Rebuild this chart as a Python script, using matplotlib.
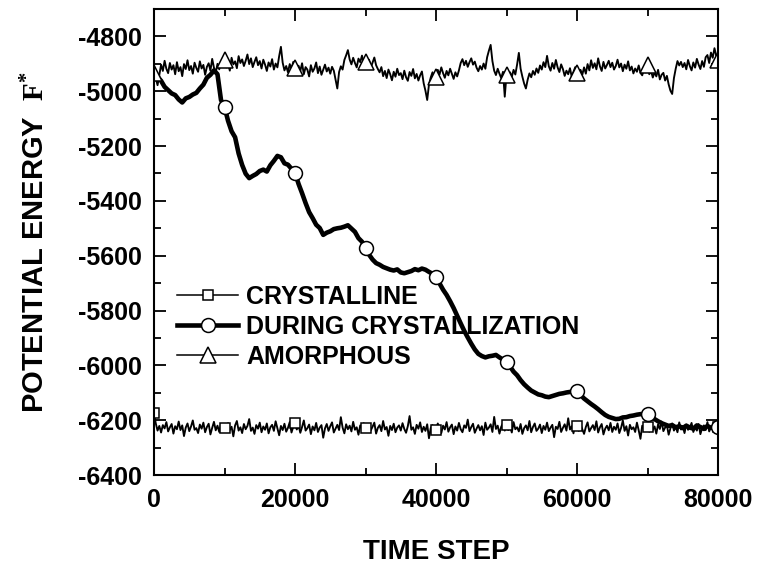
import numpy as np
import matplotlib
matplotlib.use('Agg')
import matplotlib.pyplot as plt
from matplotlib.ticker import MultipleLocator

plt.rcParams['font.family'] = ['Liberation Sans', 'DejaVu Sans']
plt.rcParams['font.weight'] = 'bold'
plt.rcParams['axes.unicode_minus'] = False
plt.rcParams['mathtext.fontset'] = 'custom'
plt.rcParams['mathtext.rm'] = 'Liberation Serif'
plt.rcParams['mathtext.it'] = 'Liberation Serif'

# potential energy, sampled every 250 steps (thin lines) and 500 steps (thick line)
cristalino = [
    -6175, -6212, -6238, -6221, -6245, -6218, -6230, -6207, -6241, -6226, -6214, -6249, -6222, -6233, -6205, -6236, -6219, -6258, -6227, -6212,
    -6240, -6223, -6201, -6235, -6229, -6247, -6216, -6231, -6209, -6244, -6225, -6213, -6252, -6228, -6206, -6237, -6220, -6243, -6215, -6232,
    -6228, -6242, -6211, -6236, -6224, -6259, -6219, -6203, -6238, -6226, -6247, -6214, -6233, -6221, -6196, -6239, -6227, -6250, -6218, -6231,
    -6209, -6244, -6223, -6235, -6212, -6248, -6226, -6217, -6239, -6204, -6230, -6255, -6221, -6236, -6213, -6242, -6228, -6207, -6245, -6224,
    -6212, -6234, -6219, -6246, -6225, -6201, -6238, -6229, -6216, -6251, -6223, -6237, -6210, -6243, -6227, -6218, -6264, -6230, -6214, -6239,
    -6222, -6208, -6245, -6231, -6217, -6236, -6189, -6227, -6248, -6215, -6233, -6220, -6241, -6206, -6235, -6226, -6253, -6219, -6230, -6211,
    -6230, -6243, -6216, -6237, -6224, -6209, -6249, -6228, -6218, -6240, -6203, -6234, -6225, -6257, -6221, -6236, -6213, -6244, -6227, -6219,
    -6238, -6211, -6232, -6246, -6222, -6185, -6235, -6226, -6250, -6217, -6231, -6208, -6243, -6224, -6239, -6215, -6266, -6229, -6218, -6241,
    -6236, -6212, -6229, -6247, -6220, -6234, -6207, -6242, -6226, -6216, -6251, -6223, -6238, -6210, -6233, -6244, -6219, -6228, -6198, -6240,
    -6225, -6213, -6246, -6231, -6218, -6237, -6222, -6254, -6209, -6235, -6227, -6215, -6243, -6188, -6232, -6220, -6249, -6224, -6211, -6238,
    -6218, -6236, -6223, -6245, -6207, -6233, -6226, -6241, -6214, -6250, -6229, -6219, -6237, -6203, -6244, -6225, -6212, -6239, -6231, -6216,
    -6247, -6221, -6235, -6209, -6240, -6227, -6217, -6262, -6224, -6232, -6206, -6243, -6228, -6215, -6238, -6193, -6234, -6222, -6248, -6213,
    -6222, -6239, -6216, -6233, -6250, -6225, -6208, -6241, -6229, -6218, -6236, -6204, -6245, -6226, -6214, -6252, -6231, -6220, -6237, -6210,
    -6243, -6224, -6235, -6212, -6247, -6228, -6201, -6239, -6222, -6256, -6217, -6233, -6226, -6243, -6209, -6237, -6268, -6220, -6231, -6214,
    -6226, -6242, -6211, -6236, -6223, -6249, -6215, -6232, -6205, -6240, -6227, -6219, -6253, -6230, -6212, -6238, -6224, -6244, -6208, -6234,
    -6221, -6247, -6216, -6235, -6228, -6210, -6243, -6225, -6238, -6214, -6251, -6229, -6219, -6236, -6207, -6241, -6226, -6232, -6215, -6239,
    -6224,
]

amorfo = [
    -4935, -4952, -4978, -4941, -4903, -4926, -4889, -4918, -4934, -4897, -4921, -4905, -4938, -4894, -4927, -4912, -4945, -4901, -4919, -4887,
    -4923, -4908, -4936, -4896, -4915, -4929, -4891, -4917, -4904, -4940, -4911, -4898, -4925, -4882, -4914, -4933, -4900, -4920, -4893, -4912,
    -4886, -4913, -4899, -4925, -4878, -4902, -4891, -4916, -4872, -4897, -4884, -4908, -4889, -4866, -4901, -4880, -4912, -4893, -4876, -4905,
    -4890, -4917, -4885, -4903, -4926, -4895, -4910, -4883, -4921, -4899, -4913, -4872, -4838, -4896, -4924, -4908, -4931, -4901, -4919, -4893,
    -4915, -4932, -4907, -4926, -4898, -4938, -4912, -4921, -4946, -4905, -4929, -4917, -4895, -4934, -4910, -4940, -4922, -4903, -4928, -4914,
    -4936, -4911, -4925, -4957, -4990, -4930, -4909, -4921, -4886, -4869, -4850, -4884, -4902, -4878, -4897, -4913, -4881, -4894, -4870, -4899,
    -4893, -4908, -4885, -4914, -4896, -4877, -4905, -4919, -4931, -4912, -4945, -4926, -4952, -4921, -4938, -4960, -4929, -4947, -4918, -4941,
    -4934, -4956, -4925, -4949, -4962, -4930, -4944, -4919, -4953, -4937, -4961, -4942, -4928, -4971, -4998, -5032, -4976, -4950, -4931, -4945,
    -4948, -4922, -4939, -4913, -4934, -4951, -4926, -4942, -4918, -4937, -4955, -4931, -4946, -4924, -4897, -4883, -4905, -4889, -4911, -4894,
    -4880, -4903, -4892, -4914, -4927, -4908, -4921, -4899, -4918, -4876, -4852, -4831, -4890, -4925, -4941, -4918, -4936, -4952, -4929, -5020,
    -4940, -4965, -4931, -4948, -4922, -4939, -4903, -4860, -4918, -4947, -4972, -4990, -4958, -4935, -4949, -4926, -4940, -4917, -4933, -4906,
    -4921, -4894, -4912, -4871, -4909, -4925, -4897, -4918, -4886, -4913, -4930, -4902, -4919, -4944, -4925, -4938, -4916, -4947, -4929, -4912,
    -4934, -4951, -4922, -4940, -4913, -4936, -4901, -4924, -4887, -4915, -4898, -4920, -4880, -4909, -4926, -4893, -4917, -4904, -4889, -4912,
    -4896, -4921, -4908, -4885, -4913, -4899, -4927, -4903, -4918, -4891, -4924, -4910, -4935, -4917, -4929, -4906, -4933, -4942, -4919, -4931,
    -4905, -4938, -4926, -4950, -4931, -4946, -4922, -4957, -4940, -4933, -4961, -4944, -4975, -4998, -5010, -4952, -4918, -4890, -4906, -4893,
    -4912, -4897, -4920, -4886, -4908, -4924, -4895, -4914, -4882, -4903, -4919, -4890, -4911, -4876, -4868, -4897, -4859, -4878, -4843, -4871,
    -4886,
]

cristalizando = [
    -4930, -4948, -4962, -4984, -4996, -5008, -5014, -5030, -5041, -5026,
    -5021, -5012, -5006, -4990, -4976, -4951, -4940, -4924, -4938, -5032,
    -5057, -5108, -5146, -5168, -5227, -5269, -5301, -5317, -5309, -5302,
    -5291, -5286, -5293, -5270, -5254, -5236, -5241, -5263, -5268, -5283,
    -5297, -5338, -5372, -5408, -5441, -5463, -5487, -5499, -5524, -5516,
    -5511, -5503, -5500, -5498, -5494, -5489, -5501, -5513, -5536, -5549,
    -5571, -5596, -5614, -5627, -5633, -5641, -5646, -5651, -5654, -5650,
    -5661, -5664, -5660, -5656, -5649, -5653, -5647, -5651, -5659, -5666,
    -5678, -5701, -5724, -5743, -5766, -5791, -5819, -5847, -5874, -5898,
    -5921, -5942, -5958, -5966, -5971, -5967, -5965, -5962, -5971, -5979,
    -5987, -6004, -6023, -6036, -6054, -6069, -6081, -6092, -6099, -6106,
    -6109, -6114, -6116, -6112, -6108, -6104, -6102, -6099, -6097, -6095,
    -6093, -6108, -6121, -6131, -6141, -6150, -6160, -6171, -6181, -6188,
    -6192, -6196, -6195, -6190, -6189, -6185, -6183, -6180, -6178, -6177,
    -6176, -6186, -6196, -6204, -6211, -6216, -6221, -6218, -6226, -6222,
    -6229, -6220, -6227, -6231, -6219, -6225, -6232, -6221, -6228, -6223,
    -6224,
]

pasos_fino = np.linspace(0, 80000, len(cristalino))
pasos_grueso = np.linspace(0, 80000, len(cristalizando))

fig = plt.figure(figsize=(7.61, 5.69), dpi=100)
ax = fig.add_axes([0.2024, 0.1652, 0.7411, 0.8190])

ax.plot(pasos_fino, cristalino, color='black', lw=1.35, marker='s', markevery=40,
        ms=7.2, mfc='white', mec='black', mew=1.1, label='CRYSTALLINE')
ax.plot(pasos_grueso, cristalizando, color='black', lw=3.3, marker='o', markevery=slice(20, None, 20),
        ms=10, mfc='white', mec='black', mew=1.1, label='DURING CRYSTALLIZATION')
ax.plot(pasos_fino, amorfo, color='black', lw=1.35, marker='^', markevery=40,
        ms=12, mfc='white', mec='black', mew=1.1, label='AMORPHOUS')

ax.set_xlim(0, 80000)
ax.set_ylim(-6400, -4700)
ax.xaxis.set_major_locator(MultipleLocator(20000))
ax.xaxis.set_minor_locator(MultipleLocator(10000))
ax.yaxis.set_major_locator(MultipleLocator(200))
ax.yaxis.set_minor_locator(MultipleLocator(100))

ax.tick_params(which='both', direction='in', top=True, right=True, width=1.3, labelsize=18, pad=9)
ax.tick_params(which='major', length=8.5)
ax.tick_params(which='minor', length=5)
for s in ax.spines.values():
    s.set_linewidth(1.5)

ax.set_xlabel('TIME STEP', fontsize=20, fontweight='bold', labelpad=20)
ax.set_ylabel(r'POTENTIAL ENERGY  $\mathrm{F}^{*}$', fontsize=21, fontweight='bold', labelpad=20)

leg = ax.legend(loc='center left', bbox_to_anchor=(0.041, 0.318), frameon=False, fontsize=18,
                handlelength=2.45, handletextpad=0.3, labelspacing=0.25, borderpad=0, borderaxespad=0)
leg.get_lines()[0].set_linewidth(1.1)
leg.get_lines()[2].set_linewidth(1.1)

plt.savefig('out.png', dpi=100)
